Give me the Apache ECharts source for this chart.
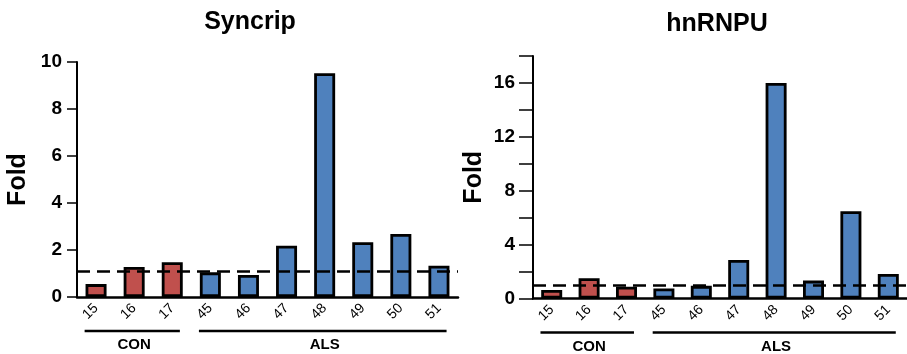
<!DOCTYPE html>
<html>
<head>
<meta charset="utf-8">
<script src="https://cdn.jsdelivr.net/npm/echarts@6/dist/echarts.min.js"></script>
<style>
html,body{margin:0;padding:0;background:#fff;}
#main{width:907px;height:354px;}
</style>
</head>
<body>
<div id="main"></div>
<script>
// 数据
var samples = ['15', '16', '17', '45', '46', '47', '48', '49', '50', '51'];
var groups = ['CON', 'ALS'];
var groupSize = [3, 7];
var syncripFold = [0.55, 1.28, 1.48, 1.05, 0.94, 2.18, 9.52, 2.33, 2.68, 1.33];
var hnrnpuFold = [0.64, 1.5, 0.88, 0.75, 0.94, 2.86, 16.0, 1.33, 6.48, 1.82];
var syncripRef = 1.1;
var hnrnpuRef = 0.95;

var FONT = 'Arial, "Liberation Sans", sans-serif';
var RED = '#C0504D', BLUE = '#4F81BD';

var myChart = echarts.init(document.getElementById('main'));

function barData(vals){
	var arr = [];
	for (var i = 0; i < vals.length; i++){
		arr.push({
			value: vals[i],
			itemStyle: { color: i < groupSize[0] ? RED : BLUE }
		});
	}
	return arr;
}

function yAxisCfg(idx, max, interval, step, tickLen, margin){
	return {
		type: 'value', gridIndex: idx, min: 0, max: max, interval: interval,
		name: 'Fold', nameLocation: 'middle', nameGap: 46, nameRotate: 90,
		nameTextStyle: { fontFamily: FONT, fontWeight: 'bold', fontSize: 25, color: '#000' },
		axisLine: { show: true, lineStyle: { color: '#000', width: 2 } },
		axisTick: { show: true, length: tickLen, lineStyle: { color: '#000', width: 1.5 } },
		splitLine: { show: false },
		axisLabel: {
			fontFamily: FONT, fontWeight: 'bold', fontSize: 19, color: '#000', margin: margin,
			formatter: function(v){ return (v % step === 0) ? String(v) : ''; }
		}
	};
}

function xAxisCfg(idx){
	return {
		type: 'category', gridIndex: idx, data: samples,
		axisLine: { lineStyle: { color: '#000', width: 2.5 } },
		axisTick: { show: false },
		axisLabel: { fontFamily: FONT, fontSize: 14, color: '#000', rotate: 45, margin: 9, interval: 0 }
	};
}

function seriesCfg(idx, vals, ref){
	return {
		type: 'bar', xAxisIndex: idx, yAxisIndex: idx,
		data: barData(vals), barWidth: 21,
		itemStyle: { borderColor: '#000', borderWidth: 2.8 },
		markLine: {
			silent: true, symbol: 'none', label: { show: false },
			lineStyle: { color: '#000', type: [13, 7], width: 2.5 },
			data: [{ yAxis: ref }]
		}
	};
}

var option = {
	animation: false,
	backgroundColor: '#fff',
	grid: [
		{ left: 77, right: 449, top: 62, bottom: 57 },
		{ left: 533, right: -6, top: 56, bottom: 55.5 }
	],
	xAxis: [xAxisCfg(0), xAxisCfg(1)],
	yAxis: [yAxisCfg(0, 10, 2, 2, 10, 15), yAxisCfg(1, 18, 2, 4, 14, 18)],
	series: [seriesCfg(0, syncripFold, syncripRef), seriesCfg(1, hnrnpuFold, hnrnpuRef)]
};
myChart.setOption(option);

// 标题与分组横线
function groupGraphics(idx, title){
	var els = [];
	var p0 = myChart.convertToPixel({ gridIndex: idx }, [0, 0]);
	var p1 = myChart.convertToPixel({ gridIndex: idx }, [1, 0]);
	var band = p1[0] - p0[0];
	els.push({
		type: 'text', x: idx == 0 ? 250 : 717, y: idx == 0 ? 35 : 37,
		style: { text: title, fontFamily: FONT, fontWeight: 'bold', fontSize: 25, fill: '#000', align: 'center', verticalAlign: 'bottom' }
	});
	var start = 0;
	for (var g = 0; g < groups.length; g++){
		var a = myChart.convertToPixel({ gridIndex: idx }, [start, 0]);
		var b = myChart.convertToPixel({ gridIndex: idx }, [start + groupSize[g] - 1, 0]);
		var y = a[1] + 34;
		els.push({
			type: 'line',
			shape: { x1: a[0] - band * 0.3, y1: y, x2: b[0] + band * 0.2, y2: y },
			style: { stroke: '#000', lineWidth: 2.5 }
		});
		els.push({
			type: 'text', x: (a[0] + b[0]) / 2, y: y + 14,
			style: { text: groups[g], fontFamily: FONT, fontWeight: 'bold', fontSize: 15, fill: '#000', align: 'center', verticalAlign: 'middle' }
		});
		start += groupSize[g];
	}
	return els;
}
myChart.setOption({ graphic: groupGraphics(0, 'Syncrip').concat(groupGraphics(1, 'hnRNPU')) });
</script>
</body>
</html>
